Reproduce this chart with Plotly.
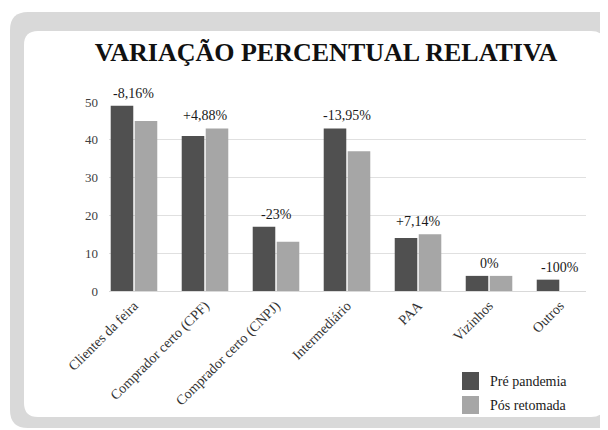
import plotly.graph_objects as go

categories = ["Clientes da feira", "Comprador certo (CPF)", "Comprador certo (CNPJ)",
              "Intermediário", "PAA", "Vizinhos", "Outros"]
pre_pandemia = [49, 41, 17, 43, 14, 4, 3]
pos_retomada = [45, 43, 13, 37, 15, 4, 0]
variacao = ["-8,16%", "+4,88%", "-23%", "-13,95%", "+7,14%", "0%", "-100%"]
series_names = ["Pré pandemia", "Pós retomada"]
y_ticks = [0, 10, 20, 30, 40, 50]

FONT = "Liberation Serif, Times New Roman, serif"
DARK = "#505050"
LIGHT = "#a6a6a6"
OFF = 8  # page body margin offset
W, H = 608 - OFF, 430 - OFF
L, R, T, B = 109 - OFF, 586 - OFF, 102 - OFF, 291 - OFF


def px(x):
    return (x - OFF - L) / (R - L)


def py(y):
    return (B - (y - OFF)) / (B - T)


def rrect(x0, y0, x1, y1, r):
    pts = []
    pts.append(f"M {px(x0 + r)},{py(y0)}")
    pts.append(f"L {px(x1 - r)},{py(y0)}")
    pts.append(f"Q {px(x1)},{py(y0)} {px(x1)},{py(y0 + r)}")
    pts.append(f"L {px(x1)},{py(y1 - r)}")
    pts.append(f"Q {px(x1)},{py(y1)} {px(x1 - r)},{py(y1)}")
    pts.append(f"L {px(x0 + r)},{py(y1)}")
    pts.append(f"Q {px(x0)},{py(y1)} {px(x0)},{py(y1 - r)}")
    pts.append(f"L {px(x0)},{py(y0 + r)}")
    pts.append(f"Q {px(x0)},{py(y0)} {px(x0 + r)},{py(y0)}")
    pts.append("Z")
    return " ".join(pts)


x_idx = list(range(len(categories)))

fig = go.Figure()
fig.add_trace(go.Bar(x=x_idx, y=pre_pandemia, name=series_names[0],
                     marker=dict(color=DARK, line=dict(width=0)), showlegend=False))
fig.add_trace(go.Bar(x=x_idx, y=pos_retomada, name=series_names[1],
                     marker=dict(color=LIGHT, line=dict(width=0)), showlegend=False))

shapes = [
    dict(type="path", xref="paper", yref="paper", path=rrect(10, 12, 640, 428, 18),
         fillcolor="#d9d9d9", line=dict(width=0), layer="below"),
    dict(type="path", xref="paper", yref="paper", path=rrect(24, 31, 605, 417, 14),
         fillcolor="white", line=dict(width=0), layer="below"),
    # custom legend squares
    dict(type="rect", xref="paper", yref="paper", x0=px(462), x1=px(479), y0=py(372), y1=py(390),
         fillcolor=DARK, line=dict(width=0)),
    dict(type="rect", xref="paper", yref="paper", x0=px(462), x1=px(479), y0=py(396), y1=py(414),
         fillcolor=LIGHT, line=dict(width=0)),
]

annotations = []
for i, txt in enumerate(variacao):
    annotations.append(dict(x=i, y=max(pre_pandemia[i], pos_retomada[i]), xref="x", yref="y",
                            text=txt, showarrow=False, yanchor="bottom", yshift=3,
                            font=dict(family=FONT, size=14, color="#1a1a1a")))
annotations.append(dict(x=px(488), y=py(381), xref="paper", yref="paper", text=series_names[0],
                        showarrow=False, xanchor="left", yanchor="middle",
                        font=dict(family=FONT, size=14, color="#1a1a1a")))
annotations.append(dict(x=px(488), y=py(405), xref="paper", yref="paper", text=series_names[1],
                        showarrow=False, xanchor="left", yanchor="middle",
                        font=dict(family=FONT, size=14, color="#1a1a1a")))

fig.update_layout(
    width=W, height=H,
    margin=dict(l=L, r=W - R, t=T, b=H - B, pad=0),
    paper_bgcolor="white",
    plot_bgcolor="rgba(0,0,0,0)",
    barmode="group",
    bargap=0.324,
    bargroupgap=0.06,
    title=dict(text="<b>VARIAÇÃO PERCENTUAL RELATIVA</b>", xref="container", yref="container",
               x=(326 - OFF) / W, y=1 - (52 - OFF) / H, xanchor="center", yanchor="middle",
               font=dict(family=FONT, size=26, color="#111111")),
    shapes=shapes,
    annotations=annotations,
    showlegend=False,
    xaxis=dict(range=[-0.352, 6.366], tickmode="array", tickvals=x_idx, ticktext=categories,
               tickangle=-45, showgrid=False, showline=True, linecolor="#d9d9d9", linewidth=1,
               ticks="", tickfont=dict(family=FONT, size=14, color="#333333"), zeroline=False),
    yaxis=dict(range=[0, 50], tickmode="array", tickvals=y_ticks, showgrid=True,
               gridcolor="#e0e0e0", gridwidth=1, zeroline=False, showline=False, ticks="",
               ticklabelstandoff=10,
               tickfont=dict(family=FONT, size=13, color="#404040")),
)

fig.write_html("out.html")
